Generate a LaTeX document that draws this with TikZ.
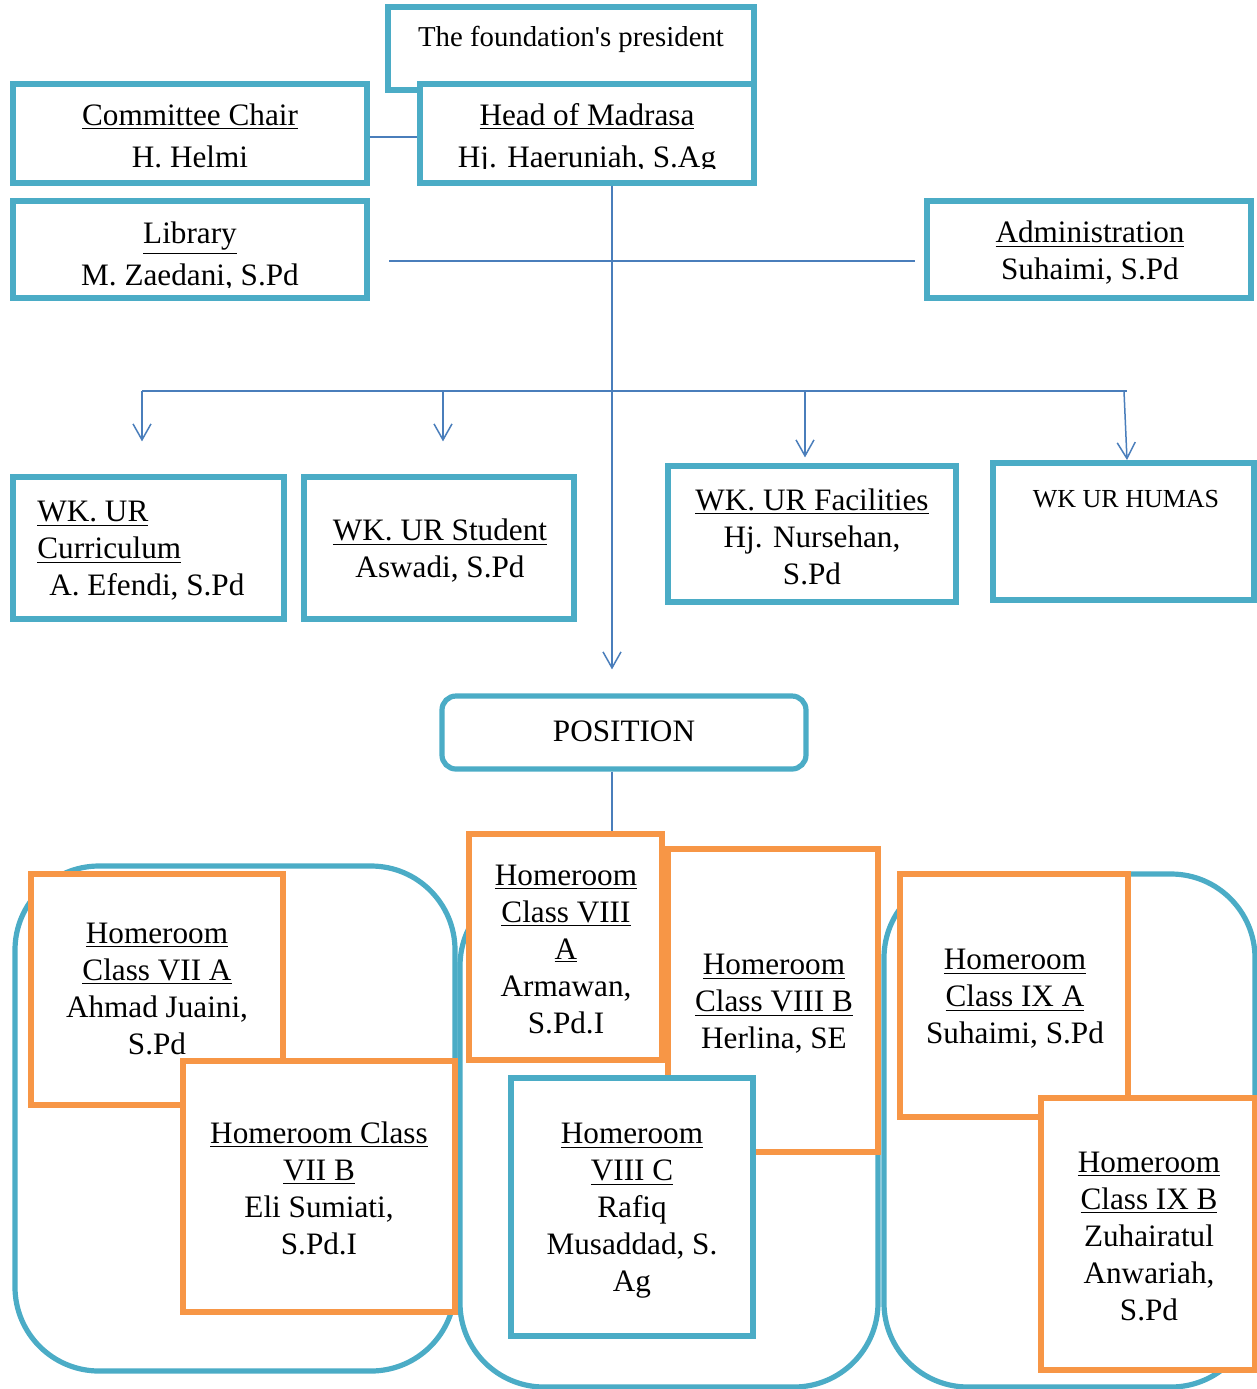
\documentclass[tikz,border=0pt]{standalone}
\usepackage{fontspec}
\setmainfont{Liberation Serif}
\newfontfamily\nomapfont{Liberation Serif}[Ligatures=TeXOff]
\usetikzlibrary{arrows.meta,fit}
\definecolor{boxblue}{HTML}{4BACC6}
\definecolor{boxorange}{HTML}{F79646}
\definecolor{lineblue}{HTML}{4A7EBB}
\newcommand{\mainfs}{\fontsize{15.6pt}{18.5pt}\selectfont}
\newcommand{\widefs}{\fontsize{15.6pt}{21pt}\selectfont}
\newcommand{\presfs}{\fontsize{14.4pt}{17pt}\selectfont}
\newcommand{\smallfs}{\fontsize{13pt}{16pt}\selectfont}
\newcommand{\undl}[1]{\underline{#1}}
\begin{document}
\begin{tikzpicture}[x=0.5pt,y=-0.5pt,
  bbox/.style={draw=boxblue, line width=2.6pt, fill=white, inner sep=0pt, rectangle},
  obox/.style={draw=boxorange, line width=2.6pt, fill=white, inner sep=0pt, rectangle},
  grp/.style={bbox, rounded corners=42pt},
  conn/.style={draw=lineblue, line width=0.75pt},
  arr/.style={conn, -{Straight Barb[length=8pt,width=9pt]}},
  txt/.style={font=\mainfs, align=center, inner sep=0pt},
  wtxt/.style={font=\widefs, align=center, inner sep=0pt},
  stxt/.style={font=\smallfs, align=center, inner sep=0pt}]
\useasboundingbox (0,0) rectangle (1257,1389);

% ---------- top boxes ----------
\node[bbox, fit={(388,7)(754,90)}] (pres) {};
\node[bbox, fit={(13,84)(367,183)}] (cc) {};
\node[bbox, fit={(420,84)(754,183)}] (hm) {};
\node[bbox, fit={(13,201)(367,298)}] (lib) {};
\node[bbox, fit={(927,201)(1251,298)}] (adm) {};

\node[txt, font=\presfs\nomapfont] (tpres) at (571,39) {The foundation's president};
\node[wtxt] (tcc) at (190,136) {\undl{Committee Chair}\\H. Helmi};
\begin{scope}
  \clip (420,84) rectangle (754,168);
  \node[wtxt] (thm) at (587,139) {\undl{Head of Madrasa}\\Hj. Haeruniah, S.Ag};
\end{scope}
\begin{scope}
  \clip (13,201) rectangle (367,287);
  \node[wtxt] (tlib) at (190,256) {\undl{Library}\\M. Zaedani, S.Pd};
\end{scope}
\node[txt] (tadm) at (1090,253) {\undl{Administration}\\Suhaimi, S.Pd};

% connectors at top
\draw[conn] (cc.east |- 0,137) -- (hm.west |- 0,137);
\coordinate (libR) at (389,261);
\coordinate (admL) at (915,261);
\draw[conn] (libR) -- (admL);

% ---------- vice heads ----------
\node[bbox, fit={(13,477)(284,619)}] (wk1) {};
\node[bbox, fit={(304,477)(574,619)}] (wk2) {};
\node[bbox, fit={(668,466)(956,602)}] (wk3) {};
\node[bbox, fit={(993,463)(1254,600)}] (wk4) {};

\node[txt, align=left, anchor=west] (twk1) at (37,551) {\undl{WK. UR}\\\undl{Curriculum}\\\hspace*{6pt}A. Efendi, S.Pd};
\node[txt] (twk2) at (440,551) {\undl{WK. UR Student}\\Aswadi, S.Pd};
\node[txt] (twk3) at (812,537) {\undl{WK. UR Facilities}\\Hj. Nursehan,\\S.Pd};
\node[stxt] (twk4) at (1126,499) {WK UR HUMAS};

% bus and arrows
\coordinate (vx) at (612,0);
\coordinate (bus1) at (142,391);
\coordinate (bus2) at (443,391);
\coordinate (bus3) at (805,391);
\coordinate (bus4) at (1124,391);
\coordinate (bus5) at (1127,391);
\coordinate (humasTip) at (1127,460);
\draw[conn] (bus1) -- (bus5);
\draw[arr, shorten >=16.5pt] (bus1) -- (wk1.north -| bus1);
\draw[arr, shorten >=16.5pt] (bus2) -- (wk2.north -| bus2);
\draw[arr, shorten >=3pt] (bus3) -- (wk3.north -| bus3);
\draw[arr] (bus4) -- (humasTip);

% ---------- position ----------
\node[bbox, rounded corners=7pt, fit={(442,696)(806,769)}] (pos) {};
\node[txt] (tpos) at (624,731) {POSITION};
\draw[arr, shorten >=12pt] (hm.south -| vx) -- (pos.north -| vx);

% ---------- homeroom groups ----------
\node[grp, fit={(15,866)(455,1371)}] (grpL) {};
\node[grp, fit={(460,882)(878,1387)}] (grpM) {};
\node[grp, fit={(884,874)(1255,1387)}] (grpR) {};

\node[obox, fit={(31,874)(283,1105)}] (h7a) {};
\node[obox, fit={(183,1061)(455,1312)}] (h7b) {};
\node[obox, fit={(469,834)(662,1060)}] (h8a) {};
\node[obox, fit={(668,849)(878,1152)}] (h8b) {};
\node[bbox, fit={(511,1078)(753,1336)}] (h8c) {};
\node[obox, fit={(900,874)(1128,1117)}] (h9a) {};
\node[obox, fit={(1041,1098)(1255,1370)}] (h9b) {};

\draw[conn] (pos.south -| vx) -- (h8a.north -| vx);

\node[txt] (t7a) at (157,989) {\undl{Homeroom}\\\undl{Class VII A}\\Ahmad Juaini,\\S.Pd};
\node[txt] (t7b) at (319,1188) {\undl{Homeroom Class}\\\undl{VII B}\\Eli Sumiati,\\S.Pd.I};
\node[txt] (t8a) at (566,949) {\undl{Homeroom}\\\undl{Class VIII}\\\undl{A}\\Armawan,\\S.Pd.I};
\node[txt] (t8b) at (774,1004) {\undl{Homeroom}\\\undl{Class VIII B}\\Herlina, SE};
\node[txt] (t8c) at (632,1211) {\undl{Homeroom}\\\undl{VIII C}\\Rafiq\\Musaddad, S.\\Ag};
\node[txt] (t9a) at (1015,999) {\undl{Homeroom}\\\undl{Class IX A}\\Suhaimi, S.Pd};
\node[txt] (t9b) at (1149,1236) {\undl{Homeroom}\\\undl{Class IX B}\\Zuhairatul\\Anwariah,\\S.Pd};
\end{tikzpicture}
\end{document}
